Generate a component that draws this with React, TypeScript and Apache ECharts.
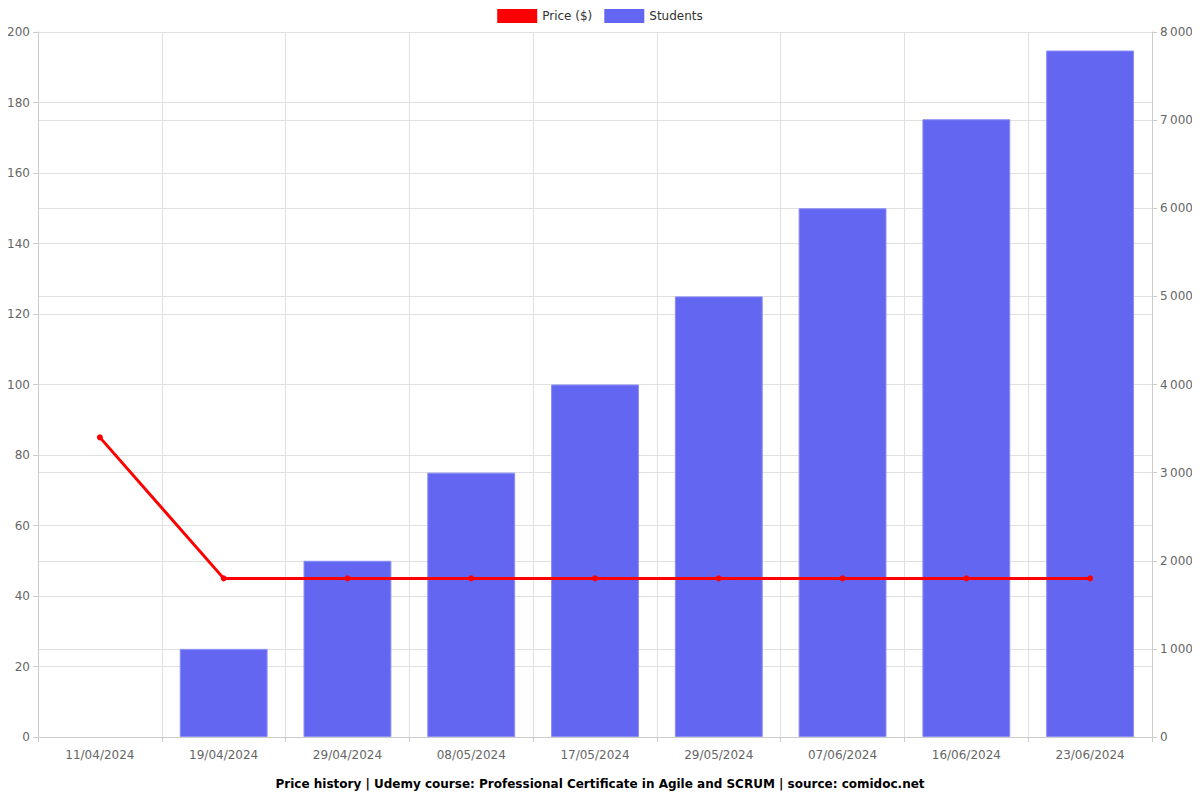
import React, { useEffect, useRef } from "react";
import * as echarts from "echarts";

const categories = ["11/04/2024", "19/04/2024", "29/04/2024", "08/05/2024", "17/05/2024", "29/05/2024", "07/06/2024", "16/06/2024", "23/06/2024"];
const price = [85, 45, 45, 45, 45, 45, 45, 45, 45];
const students = [null, 1000, 2000, 3000, 4000, 5000, 6000, 7010, 7790];

const fmt = (v: number) => {
  const s = String(Math.round(v));
  return s.replace(/\B(?=(\d{3})+(?!\d))/g, "\u2009");
};

export default function App() {
  const ref = useRef<HTMLDivElement>(null);
  useEffect(() => {
    const chart = echarts.init(ref.current!, null, { renderer: "svg" });
    const font = "DejaVu Sans";
    chart.setOption({
      animation: false,
      textStyle: { fontFamily: font },
      title: {
        text: "Price history | Udemy course: Professional Certificate in Agile and SCRUM | source: comidoc.net",
        left: "center",
        bottom: 5,
        textStyle: { fontSize: 12, fontWeight: "bold", color: "#000", fontFamily: font },
      },
      legend: {
        top: 4,
        left: "center",
        itemWidth: 40,
        itemHeight: 14,
        itemGap: 12,
        textStyle: { fontSize: 12, color: "#333", fontFamily: font },
        data: [
          { name: "Price ($)", icon: "rect", itemStyle: { color: "#ff0000" } },
          { name: "Students", icon: "rect", itemStyle: { color: "#6366f1", borderWidth: 0 } },
        ],
      },
      grid: { left: 38, right: 48, top: 32, bottom: 63, containLabel: false },
      xAxis: {
        type: "category",
        data: categories,
        boundaryGap: true,
        axisLine: { lineStyle: { color: "#ccc" } },
        axisTick: { show: true, lineStyle: { color: "#ccc" } },
        axisLabel: { color: "#666", fontSize: 12, margin: 12, fontFamily: font },
        splitLine: { show: true, lineStyle: { color: "#e0e0e0" } },
      },
      yAxis: [
        {
          type: "value",
          min: 0,
          max: 200,
          interval: 20,
          position: "left",
          axisLine: { show: true, lineStyle: { color: "#ccc" } },
          axisTick: { show: true, lineStyle: { color: "#ccc" } },
          axisLabel: { color: "#666", fontSize: 12, fontFamily: font },
          splitLine: { show: true, lineStyle: { color: "#e0e0e0" } },
        },
        {
          type: "value",
          min: 0,
          max: 8000,
          interval: 1000,
          position: "right",
          axisLine: { show: true, lineStyle: { color: "#ccc" } },
          axisTick: { show: true, lineStyle: { color: "#ccc" } },
          axisLabel: { color: "#666", fontSize: 12, fontFamily: font, formatter: fmt },
          splitLine: { show: true, lineStyle: { color: "#e0e0e0" } },
        },
      ],
      series: [
        {
          name: "Price ($)",
          type: "line",
          yAxisIndex: 0,
          data: price,
          z: 3,
          symbol: "circle",
          symbolSize: 6,
          lineStyle: { color: "#ff0000", width: 3 },
          itemStyle: { color: "#ff0000" },
        },
        {
          name: "Students",
          type: "bar",
          yAxisIndex: 1,
          data: students,
          barWidth: "71%",
          z: 2,
          itemStyle: { color: "#6366f1", borderColor: "#8b8ef5", borderWidth: 1 },
        },
      ],
    });
    return () => chart.dispose();
  }, []);
  return <div ref={ref} style={{ width: 1200, height: 800, margin: -8 }} />;
}
